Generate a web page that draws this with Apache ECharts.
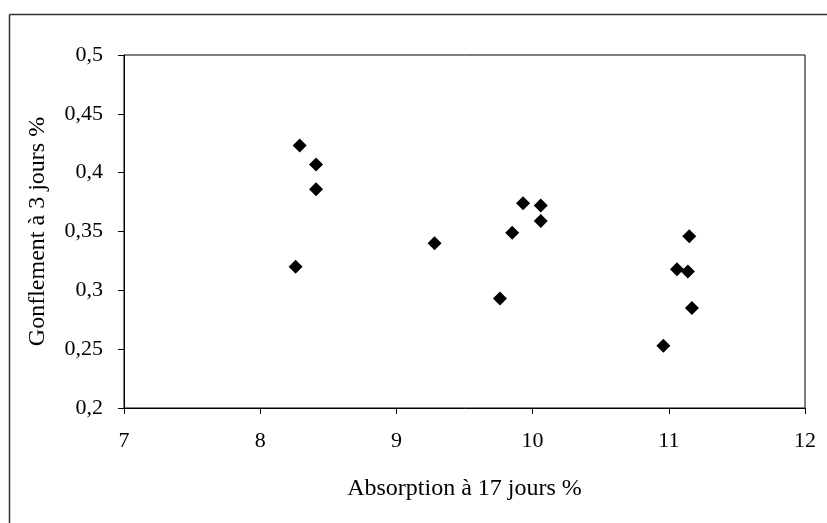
<!DOCTYPE html>
<html>
<head>
<meta charset="utf-8">
<script src="https://cdn.jsdelivr.net/npm/echarts@6/dist/echarts.min.js"></script>
<style>html,body{margin:0;padding:0;background:#fff;}#c{width:827px;height:523px;}</style>
</head>
<body>
<div id="c"></div>
<script>
const absorption = [8.29, 8.41, 8.41, 8.26, 9.28, 9.76, 9.85, 9.93, 10.06, 10.06, 10.96, 11.06, 11.14, 11.15, 11.17];
const gonflement = [0.423, 0.407, 0.386, 0.320, 0.340, 0.293, 0.349, 0.374, 0.372, 0.359, 0.253, 0.318, 0.316, 0.346, 0.285];
const xTicks = [7, 8, 9, 10, 11, 12];
const yTicks = [0.2, 0.25, 0.3, 0.35, 0.4, 0.45, 0.5];
const xName = 'Absorption à 17 jours %';
const yName = 'Gonflement à 3 jours %';

const chart = echarts.init(document.getElementById('c'), null, {renderer: 'canvas'});
const font = 'Liberation Serif';
const fmt = v => String(Math.round(v * 100) / 100).replace('.', ',');
chart.setOption({
  animation: false,
  backgroundColor: '#fff',
  graphic: [
    {type: 'line', shape: {x1: 9.5, y1: 14.5, x2: 827, y2: 14.5}, style: {stroke: '#333', lineWidth: 1.5}},
    {type: 'line', shape: {x1: 9.5, y1: 14.5, x2: 9.5, y2: 523}, style: {stroke: '#333', lineWidth: 1.5}}
  ],
  grid: {left: 124, right: 22, top: 55, bottom: 115, show: true, borderColor: '#000', borderWidth: 1},
  xAxis: {
    type: 'value', min: xTicks[0], max: xTicks[xTicks.length - 1], interval: 1,
    name: xName, nameLocation: 'middle', nameGap: 69,
    nameTextStyle: {fontFamily: font, fontSize: 24, color: '#000'},
    axisLine: {lineStyle: {color: '#000'}},
    axisTick: {show: true, length: 6, lineStyle: {color: '#000'}},
    axisLabel: {fontFamily: font, fontSize: 22, color: '#000', margin: 22, formatter: fmt},
    splitLine: {show: false}
  },
  yAxis: {
    type: 'value', min: yTicks[0], max: yTicks[yTicks.length - 1], interval: 0.05,
    name: yName, nameLocation: 'middle', nameGap: 74,
    nameTextStyle: {fontFamily: font, fontSize: 24, color: '#000'},
    axisLine: {show: true, lineStyle: {color: '#000'}},
    axisTick: {show: true, length: 6, lineStyle: {color: '#000'}},
    axisLabel: {fontFamily: font, fontSize: 22, color: '#000', margin: 21, formatter: fmt},
    splitLine: {show: false}
  },
  series: [{
    type: 'scatter',
    symbol: 'diamond',
    symbolSize: 14,
    itemStyle: {color: '#000', opacity: 1},
    data: absorption.map((x, i) => [x, gonflement[i]])
  }]
});
</script>
</body>
</html>
